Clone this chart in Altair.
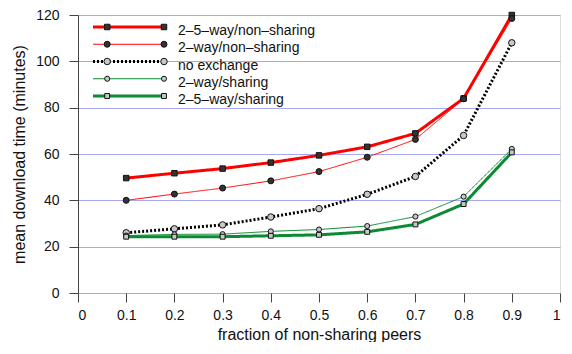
import altair as alt
import pandas as pd

# ---- data ----
fractions = [0.1, 0.2, 0.3, 0.4, 0.5, 0.6, 0.7, 0.8, 0.9]
series_names = ["2\u20135\u2013way/non\u2013sharing", "2\u2013way/non\u2013sharing",
                "no exchange", "2\u2013way/sharing", "2\u20135\u2013way/sharing"]
nonshare_25 = [49.6, 51.7, 53.7, 56.3, 59.4, 63.1, 68.9, 84.0, 120.0]
nonshare_2 = [40.0, 42.7, 45.3, 48.4, 52.4, 58.6, 66.3, 83.8, 118.5]
no_exchange = [26.0, 27.7, 29.4, 32.8, 36.4, 42.6, 50.3, 68.0, 108.0]
share_2 = [24.8, 25.3, 25.4, 26.6, 27.4, 28.9, 33.0, 41.6, 62.2]
share_25 = [24.3, 24.3, 24.3, 24.7, 25.1, 26.4, 29.6, 38.4, 60.7]
x_ticks = [0, 0.1, 0.2, 0.3, 0.4, 0.5, 0.6, 0.7, 0.8, 0.9, 1]
y_ticks = [0, 20, 40, 60, 80, 100, 120]

# ---- styles ----
line_colors = ["#ff0000", "#ff0000", "#000000", "#0a8a32", "#0a8a32"]
line_widths = [3, 1, 3, 1, 3]
line_dashes = [[1, 0], [1, 0], [2, 2], [1, 0], [1, 0]]
marker_shapes = ["square", "circle", "circle", "circle", "square"]
marker_fills = ["#333333", "#333333", "#c8c8c8", "#c8c8c8", "#c8c8c8"]
marker_sizes = [30, 36, 42, 26, 24]

all_values = [nonshare_25, nonshare_2, no_exchange, share_2, share_25]
rows = []
for name, vals in zip(series_names, all_values):
    for f, v in zip(fractions, vals):
        rows.append({"series": name, "fraction": f, "time": v})
df = pd.DataFrame(rows)

leg_rows = [{"series": n, "row": i, "a": 0.0, "b": 1.0} for i, n in enumerate(series_names)]
leg_df = pd.DataFrame(leg_rows)
leg_pts = pd.DataFrame([{"series": n, "row": i, "pos": p}
                        for i, n in enumerate(series_names) for p in (0.2, 1.0)])

FONT = "Liberation Sans"

color_s = alt.Scale(domain=series_names, range=line_colors)
width_s = alt.Scale(type="ordinal", domain=series_names, range=line_widths)
dash_s = alt.Scale(domain=series_names, range=line_dashes)
shape_s = alt.Scale(domain=series_names, range=marker_shapes)
fill_s = alt.Scale(domain=series_names, range=marker_fills)
size_s = alt.Scale(type="ordinal", domain=series_names, range=marker_sizes)

x_scale = alt.Scale(domain=[0, 1], nice=False, zero=False)
y_scale = alt.Scale(domain=[0, 120], nice=False, zero=False)

xs = alt.X("fraction:Q", scale=x_scale,
           axis=alt.Axis(values=x_ticks, title="fraction of non-sharing peers",
                         grid=False, domain=False, tickSize=9, tickColor="#444",
                         labelPadding=6, labelFontSize=14, titleFontSize=16,
                         titlePadding=4, labelFont=FONT, titleFont=FONT,
                         labelColor="#111", titleColor="#111", titleFontWeight="normal",
                         labelExpr="datum.value == 0 ? '0' : datum.value == 1 ? '1' : format(datum.value, '.1f')"))
ys = alt.Y("time:Q", scale=y_scale,
           axis=alt.Axis(values=y_ticks, title="mean download time (minutes)",
                         grid=True, gridColor="#a8a8f0", gridWidth=1,
                         domain=True, domainColor="#444", tickSize=9, tickColor="#444",
                         labelPadding=10, labelFontSize=14, titleFontSize=16,
                         titlePadding=8, labelFont=FONT, titleFont=FONT,
                         labelColor="#111", titleColor="#111", titleFontWeight="normal"))

lines = alt.Chart(df).mark_line().encode(
    x=xs, y=ys,
    color=alt.Color("series:N", scale=color_s, legend=None),
    strokeWidth=alt.StrokeWidth("series:N", scale=width_s, legend=None),
    strokeDash=alt.StrokeDash("series:N", scale=dash_s, legend=None),
    order=alt.Order("fraction:Q"),
    detail="series:N",
)
points = alt.Chart(df).mark_point(filled=True, stroke="#111", strokeWidth=1, opacity=1).encode(
    x=alt.X("fraction:Q", scale=x_scale, axis=None),
    y=alt.Y("time:Q", scale=y_scale, axis=None),
    shape=alt.Shape("series:N", scale=shape_s, legend=None),
    fill=alt.Fill("series:N", scale=fill_s, legend=None),
    size=alt.Size("series:N", scale=size_s, legend=None),
)

lx = alt.Scale(domain=[0, 1], range=[15, 86], zero=False, nice=False)
ly = alt.Scale(domain=[0, 4], range=[12, 81], zero=False, nice=False)
tx = alt.Scale(domain=[0, 1], range=[99, 100], zero=False, nice=False)

leg_lines = alt.Chart(leg_df).mark_rule().encode(
    x=alt.X("a:Q", scale=lx, axis=None),
    x2="b:Q",
    y=alt.Y("row:Q", scale=ly, axis=None),
    color=alt.Color("series:N", scale=color_s, legend=None),
    strokeWidth=alt.StrokeWidth("series:N", scale=width_s, legend=None),
    strokeDash=alt.StrokeDash("series:N", scale=dash_s, legend=None),
)
leg_points = alt.Chart(leg_pts).mark_point(filled=True, stroke="#111", strokeWidth=1, opacity=1).encode(
    x=alt.X("pos:Q", scale=lx, axis=None),
    y=alt.Y("row:Q", scale=ly, axis=None),
    shape=alt.Shape("series:N", scale=shape_s, legend=None),
    fill=alt.Fill("series:N", scale=fill_s, legend=None),
    size=alt.Size("series:N", scale=size_s, legend=None),
)
leg_text = alt.Chart(leg_df).mark_text(align="left", baseline="middle", dy=4, dx=0,
                                        fontSize=14, font=FONT, color="#111").encode(
    x=alt.X("b:Q", scale=tx, axis=None),
    y=alt.Y("row:Q", scale=ly, axis=None),
    text="series:N",
)

chart = alt.layer(lines, points, leg_lines, leg_points, leg_text).resolve_scale(
    x="independent", y="independent"
).properties(
    width=482, height=278,
    autosize=alt.AutoSizeParams(type="none"),
    padding={"left": 70, "top": 7, "right": 4, "bottom": 49},
).configure_view(stroke=None).configure(background="white")

chart.save("out.html", embed_options={"renderer": "svg", "actions": False})
